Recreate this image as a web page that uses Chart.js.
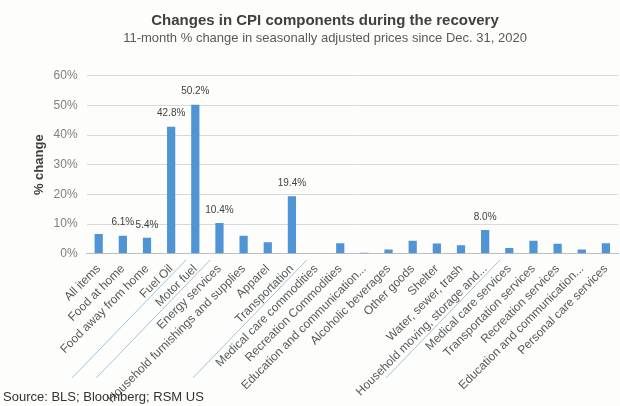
<!DOCTYPE html>
<html>
<head>
<meta charset="utf-8">
<script src="https://cdn.jsdelivr.net/npm/chart.js@4"></script>
<style>
  html, body { margin: 0; padding: 0; background: #fdfdfb; }
  #wrap { position: relative; width: 620px; height: 406px; }
  #source {
    position: absolute; left: 3px; top: 389px;
    font: 13px "Liberation Sans", Arial, sans-serif; color: #333;
  }
</style>
</head>
<body>
<div id="wrap">
  <canvas id="myChart" width="620" height="406"></canvas>
  <div id="source">Source: BLS; Bloomberg; RSM US</div>
</div>
<script>
// categories on the x axis
const categorias = [
    'All items', 'Food at home', 'Food away from home', 'Fuel Oil', 'Motor fuel',
    'Energy services', 'Household furnishings and supplies', 'Apparel', 'Transportation',
    'Medical care commodities', 'Recreation Commodities', 'Education and communication...',
    'Alcoholic beverages', 'Other goods', 'Shelter', 'Water, sewer, trash',
    'Household moving, storage and...', 'Medical care services', 'Transportation services',
    'Recreation services', 'Education and communication...', 'Personal care services'
];

// % change since Dec. 31, 2020
const variacao = [
    6.7, 6.1, 5.4, 42.8, 50.2,
    10.4, 6.1, 3.9, 19.4,
    0.0, 3.6, 0.4,
    1.5, 4.4, 3.5, 2.9,
    8.0, 2.0, 4.4,
    3.4, 1.5, 3.6
];

// bars that carry a value label
const comRotulo = [1, 2, 3, 4, 5, 8, 16];

// bars whose axis labels get the thin blue underline
const sublinhados = [3, 4, 8, 16];

const yTicks = { min: 0, max: 60, step: 10 };

const FONTE = '"Liberation Sans", Arial, sans-serif';

// value labels above selected bars
const rotulosPlugin = {
    id: 'rotulos',
    afterDatasetsDraw(chart) {
        const ctx = chart.ctx;
        const meta = chart.getDatasetMeta(0);
        ctx.save();
        ctx.font = '10px ' + FONTE;
        ctx.fillStyle = '#404040';
        ctx.textAlign = 'center';
        ctx.textBaseline = 'middle';
        comRotulo.forEach(i => {
            const bar = meta.data[i];
            ctx.fillText(variacao[i].toFixed(1) + '%', bar.x, bar.y - 13);
        });
        ctx.restore();
    }
};

// thin diagonal lines running along some axis labels
const linhasPlugin = {
    id: 'linhas',
    afterDraw(chart) {
        const ctx = chart.ctx;
        const x = chart.scales.x;
        const base = chart.chartArea.bottom + 6;
        ctx.save();
        ctx.strokeStyle = '#9cc3e6';
        ctx.lineWidth = 1;
        sublinhados.forEach(i => {
            const x0 = x.getPixelForTick(i) + 15;
            ctx.beginPath();
            ctx.moveTo(x0, base);
            ctx.lineTo(x0 - 114, base + 118);
            ctx.stroke();
        });
        ctx.restore();
    }
};

const ctx = document.getElementById('myChart').getContext('2d');

const myChart = new Chart(ctx, {
    type: 'bar',
    data: {
        labels: categorias,
        datasets: [{
            label: '% change',
            data: variacao,
            backgroundColor: '#4f94d4',
            barPercentage: 0.34,
            categoryPercentage: 1
        }]
    },
    options: {
        responsive: false,
        animation: false,
        layout: { padding: { left: 32, right: 2, top: 0, bottom: 0 } },
        plugins: {
            legend: { display: false },
            tooltip: { enabled: false },
            title: {
                display: true,
                text: 'Changes in CPI components during the recovery',
                color: '#404040',
                font: { family: FONTE, size: 15, weight: 'bold' },
                padding: { top: 12, bottom: 1 }
            },
            subtitle: {
                display: true,
                text: '11-month % change in seasonally adjusted prices since Dec. 31, 2020',
                color: '#595959',
                font: { family: FONTE, size: 13 },
                padding: { top: 0, bottom: 29 }
            }
        },
        scales: {
            x: {
                grid: { display: false },
                border: { color: '#bfbfbf' },
                ticks: {
                    autoSkip: false,
                    maxRotation: 45,
                    minRotation: 45,
                    color: '#595959',
                    font: { family: FONTE, size: 12 },
                    padding: 0
                }
            },
            y: {
                min: yTicks.min,
                max: yTicks.max,
                title: {
                    display: true,
                    text: '% change',
                    color: '#404040',
                    font: { family: FONTE, size: 13, weight: 'bold' },
                    padding: { top: 0, bottom: -3 }
                },
                grid: { color: '#d9d9d9', drawTicks: false },
                border: { display: false },
                ticks: {
                    stepSize: yTicks.step,
                    color: '#808080',
                    font: { family: FONTE, size: 12 },
                    padding: 9,
                    callback: v => v + '%'
                }
            }
        }
    },
    plugins: [rotulosPlugin, linhasPlugin]
});
</script>
</body>
</html>
